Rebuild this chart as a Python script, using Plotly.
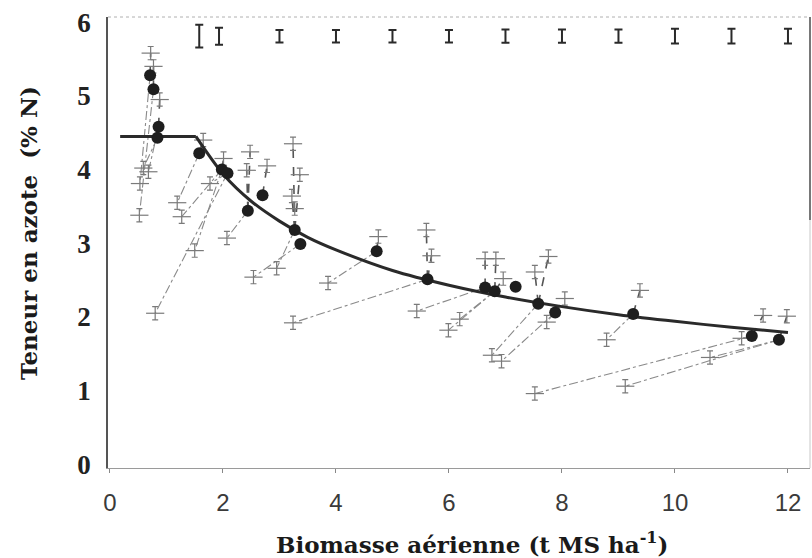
import plotly.graph_objects as go

# critical (filled) points : biomass W (t MS/ha), N content (%)
crit_W = [0.71, 0.77, 0.86, 0.84, 1.58, 1.98, 2.08, 2.70, 2.44, 3.27, 3.37,
          4.72, 5.62, 6.64, 6.81, 7.18, 7.58, 7.88, 9.26, 11.36, 11.84]
crit_N = [5.28, 5.09, 4.58, 4.43, 4.22, 4.00, 3.95, 3.65, 3.44, 3.18, 2.99,
          2.89, 2.51, 2.40, 2.35, 2.41, 2.18, 2.06, 2.04, 1.74, 1.69]

# other treatments (crosses) and the critical point they are linked to
cross_W = [0.72, 0.53, 0.77, 0.52, 0.88, 0.68, 0.59,
           1.65, 1.19, 2.01, 1.27, 1.50, 0.80, 1.77,
           2.78, 2.42, 2.48, 2.07,
           3.24, 3.36, 3.22, 3.27, 2.95, 2.54,
           4.75, 3.86, 5.60, 5.69, 3.24,
           6.64, 5.43, 6.83, 6.96, 6.19, 5.99,
           7.52, 7.76, 6.76, 8.05, 6.93, 7.73,
           9.38, 8.79, 11.56, 11.18, 7.52, 11.98, 10.62, 9.12]
cross_N = [5.58, 3.81, 5.40, 3.38, 4.95, 3.97, 4.02,
           4.40, 3.55, 4.15, 3.36, 2.90, 2.05, 3.81,
           4.05, 3.99, 4.24, 3.07,
           4.35, 3.93, 3.64, 3.47, 2.66, 2.54,
           3.09, 2.46, 3.18, 2.83, 1.92,
           2.79, 2.08, 2.79, 2.52, 1.97, 1.82,
           2.61, 2.82, 1.48, 2.25, 1.40, 1.93,
           2.36, 1.69, 2.02, 1.71, 0.96, 2.01, 1.45, 1.06]
cross_grp = [0, 0, 1, 1, 2, 2, 3,
             4, 4, 5, 5, 5, 6, 6,
             7, 8, 8, 8,
             9, 9, 9, 9, 9, 10,
             11, 11, 12, 12, 12,
             13, 13, 14, 14, 14, 14,
             16, 16, 16, 17, 17, 17,
             18, 18, 19, 19, 19, 20, 20, 20]

# critical dilution curve: plateau then decreasing part
plateau_W = [0.18, 1.52]
plateau_N = [4.45, 4.45]
curve_W = [1.52, 2.0, 2.5, 3.0, 3.5, 4.0, 5.0, 6.0, 7.0, 8.0, 9.0, 10.0, 11.0, 12.0]
curve_N = [4.45, 3.94, 3.57, 3.30, 3.08, 2.91, 2.63, 2.43, 2.27, 2.14, 2.03, 1.94, 1.86, 1.79]

# standard deviation bars along the top
sd_W = [1.58, 1.93, 3, 4, 5, 6, 7, 8, 9, 10, 11, 12]
sd_N = [5.81] * 12
sd_err = [0.155, 0.115, 0.085, 0.085, 0.085, 0.085, 0.09, 0.09, 0.09, 0.1, 0.1, 0.1]

x_ticks = [0, 2, 4, 6, 8, 10, 12]
y_ticks = [0, 1, 2, 3, 4, 5, 6]

fig = go.Figure()

# connecting lines
low_x, low_y, up_x, up_y = [], [], [], []
for w, n, g in zip(cross_W, cross_N, cross_grp):
    if n > crit_N[g] and abs(w - crit_W[g]) < 0.25:
        up_x += [crit_W[g], w, None]
        up_y += [crit_N[g], n, None]
    else:
        low_x += [crit_W[g], w, None]
        low_y += [crit_N[g], n, None]

fig.add_trace(go.Scatter(x=low_x, y=low_y, mode="lines",
                         line=dict(color="#8a8a8a", width=1.1, dash="dashdot"),
                         hoverinfo="skip", showlegend=False))
fig.add_trace(go.Scatter(x=up_x, y=up_y, mode="lines",
                         line=dict(color="#555555", width=1.6, dash="dash"),
                         hoverinfo="skip", showlegend=False))

# crosses with small error bars
fig.add_trace(go.Scatter(x=cross_W, y=cross_N, mode="markers",
                         marker=dict(symbol="line-ew", size=13,
                                     line=dict(color="#7a7a7a", width=1.2)),
                         error_y=dict(type="constant", value=0.09, color="#7a7a7a",
                                      thickness=1.2, width=3),
                         showlegend=False))

# critical curve
fig.add_trace(go.Scatter(x=plateau_W, y=plateau_N, mode="lines",
                         line=dict(color="#2a2a2a", width=3), showlegend=False))
fig.add_trace(go.Scatter(x=curve_W, y=curve_N, mode="lines",
                         line=dict(color="#2a2a2a", width=3, shape="spline", smoothing=0.8),
                         showlegend=False))

# filled critical points
fig.add_trace(go.Scatter(x=crit_W, y=crit_N, mode="markers",
                         marker=dict(symbol="circle", size=12, color="#1e1e1e"),
                         showlegend=False))

# SD bars at top
fig.add_trace(go.Scatter(x=sd_W, y=sd_N, mode="markers",
                         marker=dict(size=1, color="rgba(0,0,0,0)"),
                         error_y=dict(type="data", array=sd_err, color="#2a2a2a",
                                      thickness=2, width=4),
                         showlegend=False))

fig.update_layout(
    width=812, height=558,
    margin=dict(l=108, r=2, t=17, b=90),
    paper_bgcolor="white", plot_bgcolor="white",
    xaxis=dict(range=[-0.035, 12.39], tickvals=x_ticks, ticktext=[str(v) for v in x_ticks],
               showgrid=False, zeroline=False, showline=True, linecolor="#9a9a9a",
               linewidth=1.2, mirror=False, ticks="outside", ticklen=4, tickcolor="#888",
               tickfont=dict(family="Liberation Sans Narrow, Liberation Sans, Arial",
                             size=24, color="#3a3a3a"),
               ticklabelstandoff=9),
    yaxis=dict(range=[-0.05, 6.07], tickvals=y_ticks, ticktext=[str(v) for v in y_ticks],
               showgrid=False, zeroline=False, showline=True, linecolor="#555555",
               linewidth=1.5, ticks="",
               tickfont=dict(family="Liberation Serif, Times New Roman", size=27,
                             color="#222222", weight="bold"),
               ticklabelstandoff=10),
    shapes=[
        dict(type="line", xref="paper", yref="paper", x0=0, x1=1, y0=1, y1=1,
             line=dict(color="#b0b0b0", width=1, dash="dot")),
        dict(type="line", xref="paper", yref="paper", x0=1, x1=1, y0=0, y1=1,
             line=dict(color="#c8c8c8", width=1)),
        dict(type="line", xref="paper", yref="paper", x0=1, x1=1, y0=0.55, y1=1,
             line=dict(color="#555555", width=1.5)),
    ],
    annotations=[
        dict(text="Biomasse aérienne (t MS ha<sup>-1</sup>)", xref="paper", yref="paper",
             x=0.518, y=0, yanchor="middle", yshift=-75, showarrow=False,
             font=dict(family="DejaVu Serif", size=23,
                       color="#1a1a1a", weight="bold")),
        dict(text="Teneur en azote  (% N)", xref="paper", yref="paper",
             x=0, y=0.521, xanchor="center", yanchor="middle", xshift=-80,
             textangle=-90, showarrow=False,
             font=dict(family="DejaVu Serif", size=23,
                       color="#1a1a1a", weight="bold")),
    ],
)

fig.write_html("out.html")
